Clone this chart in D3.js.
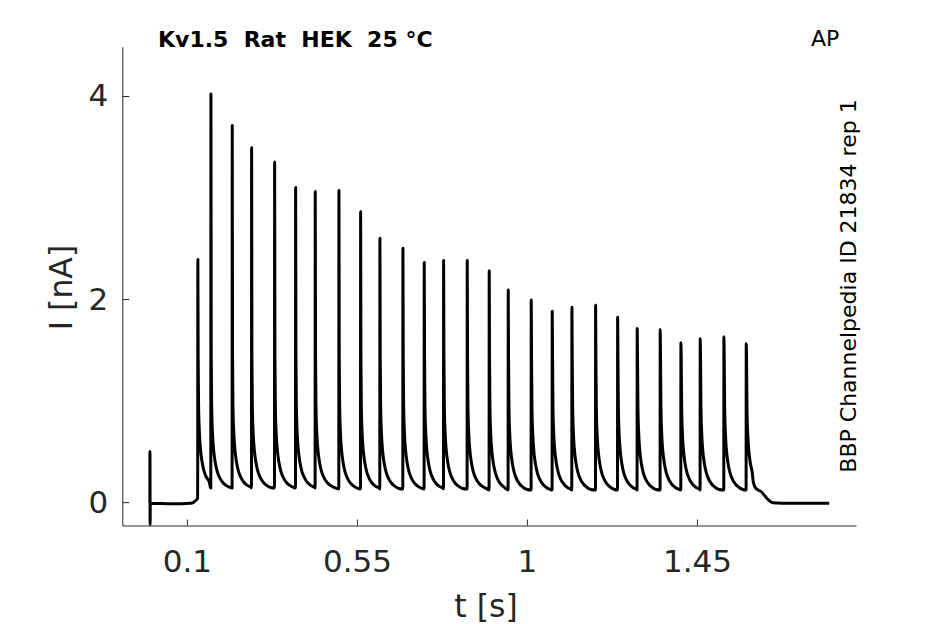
<!DOCTYPE html>
<html>
<head>
<meta charset="utf-8">
<script src="https://cdn.jsdelivr.net/npm/d3@7"></script>
<style>
  body { margin: 0; background: #fff; }
  svg { display: block; }
  text { white-space: pre; }
</style>
</head>
<body>
<script>
/*jslint white: true */
/*global d3 */
"use strict";

// spike peak times [s] and peak currents [nA]
var spikeTimes = [0.129, 0.1636, 0.220, 0.2713, 0.3322, 0.3878, 0.4397, 0.5024, 0.5598,
  0.6109, 0.6718, 0.7282, 0.7795, 0.8420, 0.9002, 0.9505, 1.0114, 1.0670, 1.1191,
  1.1818, 1.2401, 1.2919, 1.3528, 1.4076, 1.4587, 1.5214, 1.5805];
var spikePeaks = [2.39, 4.02, 3.71, 3.49, 3.35, 3.10, 3.06, 3.07, 2.86, 2.60, 2.50, 2.36,
  2.38, 2.38, 2.28, 2.09, 1.99, 1.88, 1.92, 1.94, 1.82, 1.71, 1.70, 1.57, 1.61, 1.63, 1.56];
// current level reached between spikes [nA]
var spikeTroughs = [0.14, 0.14, 0.14, 0.14, 0.14, 0.14, 0.14, 0.13, 0.13, 0.13, 0.13, 0.13,
  0.13, 0.13, 0.12, 0.12, 0.12, 0.12, 0.12, 0.12, 0.12, 0.12, 0.12, 0.12, 0.12, 0.12, 0.12];
// decay after a peak: time after peak [s] and current above trough [nA]
var decayTimes = [0.0008, 0.002, 0.004, 0.007, 0.011, 0.016, 0.022, 0.030, 0.040, 0.050];
var decayExcess = [1.3, 0.8, 0.55, 0.38, 0.26, 0.17, 0.11, 0.06, 0.025, 0.005];
// trace before the step (holding, capacitive artefact) and after the last spike
var leadTrace = [[0, -0.01], [0.002, -0.01], [0.0022, 0.5], [0.0026, -0.22], [0.003, -0.01],
  [0.06, -0.015], [0.11, -0.01], [0.118, 0.0], [0.1285, 0.04]];
var tailTrace = [[1.599, 0.2], [1.605, 0.14], [1.612, 0.12], [1.621, 0.10], [1.630, 0.06],
  [1.640, 0.02], [1.651, -0.005], [1.70, -0.012], [1.80, -0.01]];

var xTicks = [0.1, 0.55, 1, 1.45];
var xTickLabels = ["0.1", "0.55", "1", "1.45"];
var yTicks = [0, 2, 4];

(function () {
  var width = 945, height = 624, ink = "#262626", font = "'DejaVu Sans', sans-serif",
    svg, x, y, trace = [], line;

  svg = d3.select("body").append("svg")
    .attr("width", width)
    .attr("height", height);

  x = d3.scaleLinear().domain([-0.071, 1.871]).range([122.3, 856]);
  y = d3.scaleLinear().domain([-0.23, 4.486]).range([525.5, 46.7]);

  // assemble the trace from the read values
  leadTrace.forEach(function (p) { trace.push(p); });
  spikeTimes.forEach(function (t, i) {
    var trough = spikeTroughs[i], last = i === spikeTimes.length - 1, next;
    next = last ? tailTrace[0][0] : spikeTimes[i + 1];
    if (i > 0) {
      trace.push([t - 0.0004, trough]);
    }
    trace.push([t, spikePeaks[i]]);
    decayTimes.forEach(function (d, k) {
      if (t + d < next - 0.0006) {
        trace.push([t + d, trough + decayExcess[k]]);
      }
    });
  });
  tailTrace.forEach(function (p) { trace.push(p); });

  line = d3.line()
    .x(function (d) { return x(d[0]); })
    .y(function (d) { return y(d[1]); })
    .curve(d3.curveMonotoneX);

  svg.append("path")
    .datum(trace)
    .attr("fill", "none")
    .attr("stroke", "#000")
    .attr("stroke-width", 3)
    .attr("stroke-linejoin", "round")
    .attr("d", line);

  // axes
  svg.append("g")
    .attr("transform", "translate(0," + y.range()[0] + ")")
    .call(d3.axisBottom(x).tickValues(xTicks)
      .tickFormat(function (d, i) { return xTickLabels[i]; })
      .tickSizeInner(-6).tickSizeOuter(0).tickPadding(24))
    .call(function (g) {
      g.select(".domain").attr("stroke", ink);
      g.selectAll(".tick line").attr("stroke", ink);
      g.selectAll(".tick text")
        .attr("fill", ink)
        .style("font-family", font)
        .style("font-size", "31px");
    });

  svg.append("g")
    .attr("transform", "translate(" + x.range()[0] + ",0)")
    .call(d3.axisLeft(y).tickValues(yTicks).tickFormat(d3.format("d"))
      .tickSizeInner(-7).tickSizeOuter(0).tickPadding(14))
    .call(function (g) {
      g.select(".domain").attr("stroke", ink);
      g.selectAll(".tick line").attr("stroke", ink);
      g.selectAll(".tick text")
        .attr("fill", ink)
        .style("font-family", font)
        .style("font-size", "31px");
    });

  // labels
  svg.append("text")
    .attr("x", 486).attr("y", 616.5)
    .attr("text-anchor", "middle")
    .attr("fill", ink)
    .style("font-family", font).style("font-size", "31.5px")
    .text("t [s]");

  svg.append("text")
    .attr("transform", "translate(72,287.5) rotate(-90)")
    .attr("text-anchor", "middle")
    .attr("fill", ink)
    .style("font-family", font).style("font-size", "31.5px")
    .text("I [nA]");

  svg.append("text")
    .attr("x", 158).attr("y", 47.3)
    .attr("fill", "#000")
    .style("font-family", font).style("font-size", "22px").style("font-weight", "bold")
    .text("Kv1.5  Rat  HEK  25 °C");

  svg.append("text")
    .attr("x", 811).attr("y", 46)
    .attr("fill", "#000")
    .style("font-family", font).style("font-size", "22px")
    .text("AP");

  svg.append("text")
    .attr("transform", "translate(856,286) rotate(-90)")
    .attr("text-anchor", "middle")
    .attr("fill", "#000")
    .style("font-family", font).style("font-size", "22px")
    .text("BBP Channelpedia ID 21834 rep 1");
}());
</script>
</body>
</html>
